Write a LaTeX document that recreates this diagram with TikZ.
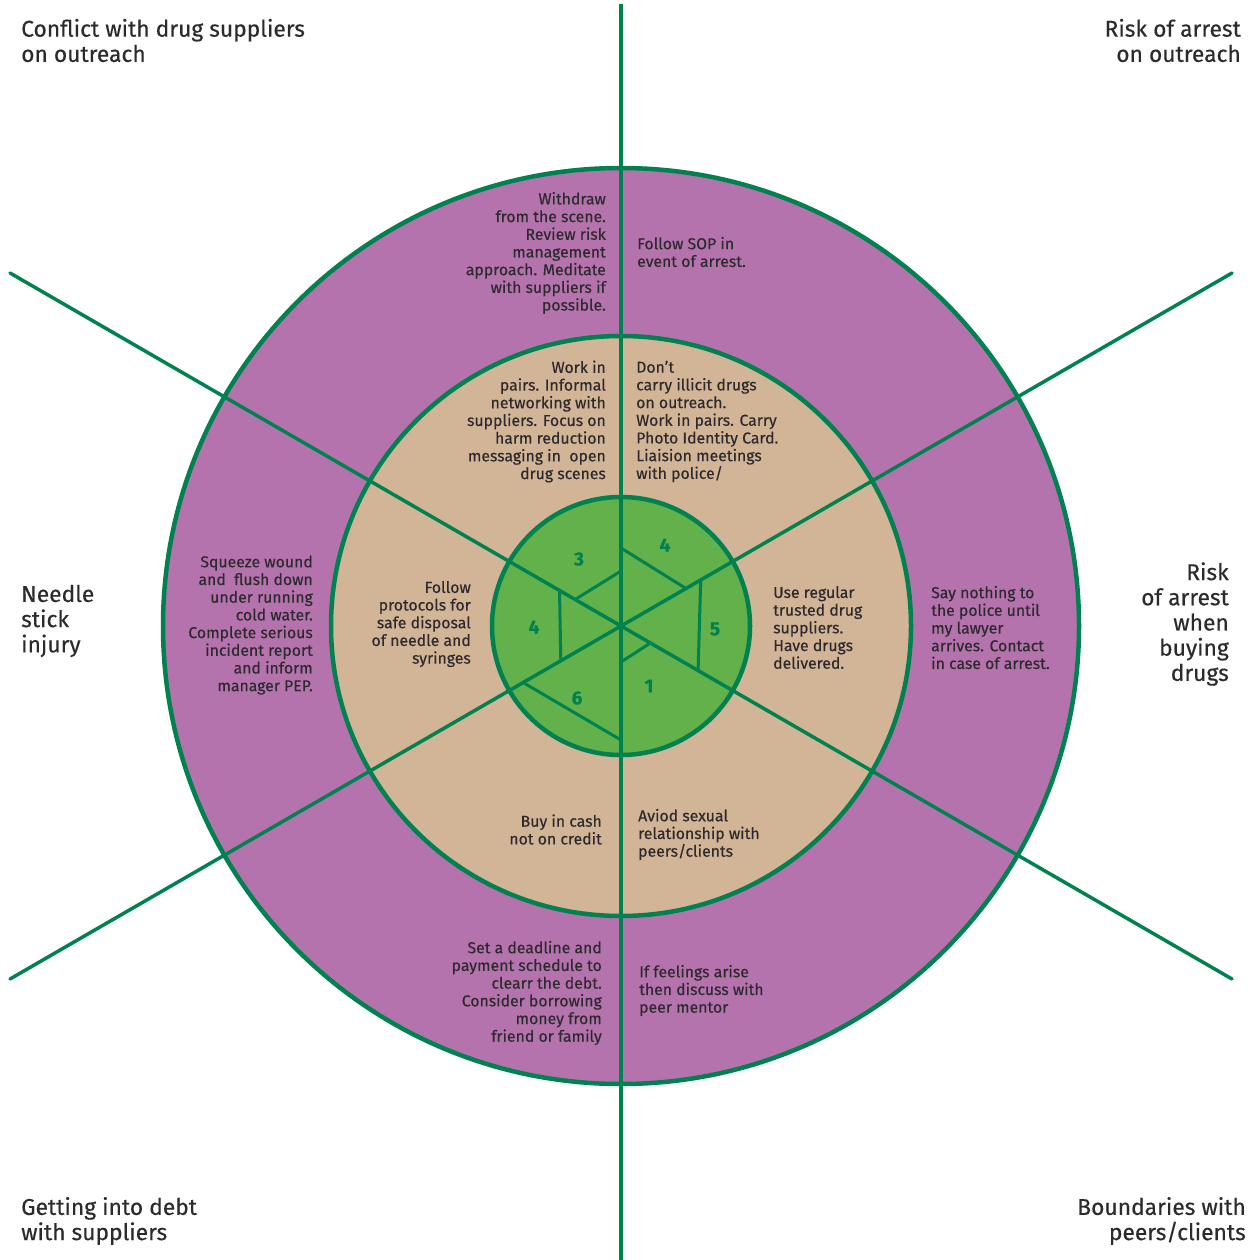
\documentclass[tikz,border=0pt]{standalone}
\usepackage{fontspec}
\setmainfont{Fira Sans}[FakeBold=0.35]
\definecolor{ringpurple}{HTML}{B573AE}
\definecolor{ringtan}{HTML}{D2B496}
\definecolor{ringgreen}{HTML}{62B14A}
\definecolor{linegreen}{HTML}{008250}
\definecolor{txt}{HTML}{2D2A2E}
\tikzset{
  spoke/.style={draw=linegreen, line width=3.5pt},
  ringline/.style={draw=linegreen, line width=4.5pt},
  chord/.style={draw=linegreen, line width=3pt},
  body/.style={inner sep=0pt, text=txt, font=\fontsize{15.8}{17.7}\selectfont},
  bodyR/.style={body, align=right, anchor=east},
  bodyL/.style={body, align=left, anchor=west},
  title/.style={inner sep=0pt, text=txt, font=\fontsize{22.8}{25.2}\selectfont},
  titleR/.style={title, align=right, anchor=east},
  titleL/.style={title, align=left, anchor=west},
  num/.style={inner sep=0pt, text=linegreen, font=\fontsize{19}{20}\selectfont\bfseries},
}
\begin{document}
\begin{tikzpicture}[x=1pt,y=-1pt]
\useasboundingbox (0,0) rectangle (1256,1260);
\fill[white] (0,0) rectangle (1256,1260);
\coordinate (C) at (621,626);
% rings
\filldraw[fill=ringpurple, ringline] (C) circle[radius=458pt];
\filldraw[fill=ringtan, ringline] (C) circle[radius=290pt];
\filldraw[fill=ringgreen, ringline] (C) circle[radius=129pt];
% spokes
\coordinate (vt) at (621,4);
\coordinate (vb) at (621,1262);
\coordinate (tl) at (10,273);
\coordinate (br) at (1232,979);
\coordinate (tr) at (1232,273);
\coordinate (bl) at (10,979);
\draw[spoke, line cap=butt] (vt) -- (vb);
\draw[spoke, line cap=round] (tl) -- (br);
\draw[spoke, line cap=round] (tr) -- (bl);
% chords in centre
\coordinate (c3a) at (621,571);   \coordinate (c3b) at (575.1,599.5);
\coordinate (c4a) at (621,548);   \coordinate (c4b) at (686,588.5);
\coordinate (c5a) at (700.7,580); \coordinate (c5b) at (698.1,670.5);
\coordinate (c1a) at (621,662);   \coordinate (c1b) at (650.4,643);
\coordinate (c6a) at (523.1,682.5); \coordinate (c6b) at (621,740);
\coordinate (c7a) at (559.5,590.5); \coordinate (c7b) at (560.8,660.8);
\draw[chord] (c3a) -- (c3b);
\draw[chord] (c4a) -- (c4b);
\draw[chord] (c5a) -- (c5b);
\draw[chord] (c1a) -- (c1b);
\draw[chord] (c6a) -- (c6b);
\draw[chord] (c7a) -- (c7b);
% numbers
\node[num] (n3) at (579,559) {3};
\node[num] (n4a) at (665,545) {4};
\node[num] (n5) at (715,629) {5};
\node[num] (n1) at (649,686) {1};
\node[num] (n6) at (577,698) {6};
\node[num] (n4b) at (534,627) {4};
% purple ring texts
\node[bodyR] (p1) at (606,253) {Withdraw\\from the scene.\\Review risk\\management\\approach. Meditate\\with suppliers if\\possible.};
\node[bodyL] (p2) at (637,252) {Follow SOP in\\event of arrest.};
\node[bodyR] (p3) at (313,625) {Squeeze wound\\and\ \ flush down\\under running\\cold water.\\Complete serious\\incident report\\and inform\\manager PEP.};
\node[bodyL] (p4) at (931,627.5) {Say nothing to\\the police until\\my lawyer\\arrives. Contact\\in case of arrest.};
\node[bodyR] (p5) at (602,993) {Set a deadline and\\payment schedule to\\clearr the debt.\\Consider borrowing\\money from\\friend or family};
\node[bodyL] (p6) at (639,990.5) {If feelings arise\\then discuss with\\peer mentor};
% tan ring texts
\node[bodyR] (t1) at (606,421.5) {Work in\\pairs. Informal\\networking with\\suppliers. Focus on\\harm reduction\\messaging in\ \ open\\drug scenes};
\node[bodyL] (t2) at (636,421.5) {Don't\\carry illicit drugs\\on outreach.\\Work in pairs. Carry\\Photo Identity Card.\\Liaision meetings\\with police/};
\node[bodyR] (t3) at (471,624) {Follow\\protocols for\\safe disposal\\of needle and\\syringes};
\node[bodyL] (t4) at (773,627.5) {Use regular\\trusted drug\\suppliers.\\Have drugs\\delivered.};
\node[bodyR] (t5) at (602,829.5) {Buy in cash\\not on credit};
\node[bodyL] (t6) at (638,834.5) {Aviod sexual\\relationship with\\peers/clients};
% titles
\node[titleL] (h1) at (21,40.5) {Conflict with drug suppliers\\on outreach};
\node[titleR] (h2) at (1241,40.5) {Risk of arrest\\on outreach};
\node[titleL] (h3) at (21,621) {Needle\\stick\\injury};
\node[titleR] (h4) at (1229,624) {Risk\\of arrest\\when\\buying\\drugs};
\node[titleL] (h5) at (21,1221) {Getting into debt\\with suppliers};
\node[titleR] (h6) at (1246,1221) {Boundaries with\\peers/clients};
\end{tikzpicture}
\end{document}
